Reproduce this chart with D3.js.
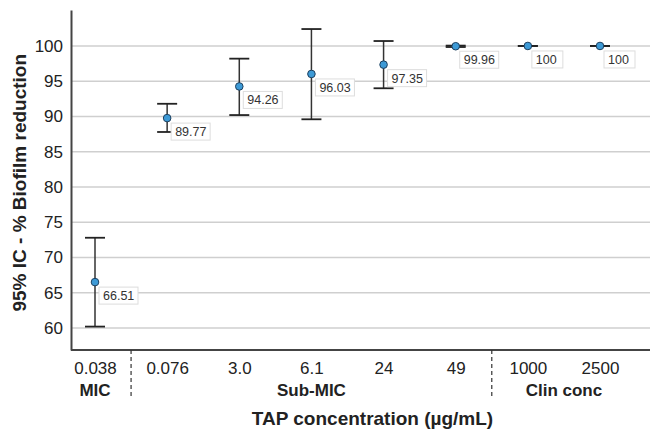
<!doctype html>
<html lang="en">
<head>
<meta charset="utf-8">
<script src="https://d3js.org/d3.v7.min.js"></script>
<style>
  body { margin: 0; background: #fff; }
  text { font-family: "Liberation Sans", Arial, sans-serif; }
</style>
</head>
<body>
<div id="chart"></div>
<script>
// data
var concentrations = ["0.038", "0.076", "3.0", "6.1", "24", "49", "1000", "2500"];
var means  = [66.51, 89.77, 94.26, 96.03, 97.35, 99.96, 100, 100];
var lowers = [60.2, 87.8, 90.2, 89.6, 94.0, 99.85, 100, 100];
var uppers = [72.8, 91.8, 98.2, 102.4, 100.7, 100.05, 100, 100];
var groupNames = ["MIC", "Sub-MIC", "Clin conc"];
var groupFirst = ["0.038", "0.076", "1000"];
var groupLast  = ["0.038", "49", "2500"];
var yTicks = [60, 65, 70, 75, 80, 85, 90, 95, 100];

var W = 650, H = 430;
var margin = {top: 10, right: 0, bottom: 80, left: 71};

var svg = d3.select("#chart").append("svg")
  .attr("width", W).attr("height", H);

var x = d3.scalePoint().domain(concentrations)
  .range([margin.left + 24, W - 50]);
var y = d3.scaleLinear().domain([56.88, 105.1])
  .range([H - margin.bottom, margin.top]);

// gridlines
svg.append("g").selectAll("line")
  .data(yTicks).enter().append("line")
  .attr("x1", margin.left).attr("x2", W)
  .attr("y1", function(d) { return y(d); })
  .attr("y2", function(d) { return y(d); })
  .attr("stroke", "#cfcfcf").attr("stroke-width", 1.5);

// y axis
var yAxis = svg.append("g")
  .attr("transform", "translate(" + margin.left + ",0)")
  .call(d3.axisLeft(y).tickValues(yTicks).tickSize(0).tickPadding(8));
yAxis.select(".domain").attr("stroke", "#444").attr("stroke-width", 2);
yAxis.selectAll("text").style("font-size", "17px").attr("fill", "#222");

// x axis
var xAxis = svg.append("g")
  .attr("transform", "translate(0," + (H - margin.bottom) + ")")
  .call(d3.axisBottom(x).tickSize(0).tickPadding(12));
xAxis.select(".domain").attr("d", "M" + margin.left + ",0H" + W)
  .attr("stroke", "#444").attr("stroke-width", 2);
xAxis.selectAll("text").style("font-size", "17px").attr("fill", "#222");

// separators between groups
var seps = [];
for (var g = 1; g < groupFirst.length; g++) {
  seps.push((x(groupLast[g - 1]) + x(groupFirst[g])) / 2);
}
svg.append("g").selectAll("line").data(seps).enter().append("line")
  .attr("x1", function(d) { return d; }).attr("x2", function(d) { return d; })
  .attr("y1", H - margin.bottom).attr("y2", H - margin.bottom + 49)
  .attr("stroke", "#333").attr("stroke-width", 1.2)
  .attr("stroke-dasharray", "4,3");

// group labels
svg.append("g").selectAll("text").data(groupNames).enter().append("text")
  .attr("x", function(d, i) { return (x(groupFirst[i]) + x(groupLast[i])) / 2; })
  .attr("y", H - margin.bottom + 46)
  .attr("text-anchor", "middle")
  .style("font-size", "17px").style("font-weight", "bold").attr("fill", "#222")
  .text(function(d) { return d; });

// axis titles
svg.append("text")
  .attr("x", (margin.left + W) / 2 + 12).attr("y", H - 5)
  .attr("text-anchor", "middle")
  .style("font-size", "19px").style("font-weight", "bold").attr("fill", "#222")
  .text("TAP concentration (µg/mL)");

svg.append("text")
  .attr("transform", "translate(26," + (y(80.6)) + ") rotate(-90)")
  .attr("text-anchor", "middle")
  .style("font-size", "19px").style("font-weight", "bold").attr("fill", "#222")
  .text("95% IC - % Biofilm reduction");

// error bars
var pts = concentrations.map(function(c, i) {
  return {c: c, m: means[i], lo: lowers[i], hi: uppers[i]};
});
var eb = svg.append("g").selectAll("g").data(pts).enter().append("g");
eb.append("line")
  .attr("x1", function(d) { return x(d.c); }).attr("x2", function(d) { return x(d.c); })
  .attr("y1", function(d) { return y(d.lo); }).attr("y2", function(d) { return y(d.hi); })
  .attr("stroke", "#333").attr("stroke-width", 1.5);
eb.append("line")
  .attr("x1", function(d) { return x(d.c) - 10; }).attr("x2", function(d) { return x(d.c) + 10; })
  .attr("y1", function(d) { return y(d.lo); }).attr("y2", function(d) { return y(d.lo); })
  .attr("stroke", "#222").attr("stroke-width", 1.8);
eb.append("line")
  .attr("x1", function(d) { return x(d.c) - 10; }).attr("x2", function(d) { return x(d.c) + 10; })
  .attr("y1", function(d) { return y(d.hi); }).attr("y2", function(d) { return y(d.hi); })
  .attr("stroke", "#222").attr("stroke-width", 1.8);

// value labels
eb.append("rect")
  .attr("x", function(d) { return x(d.c) + 4; })
  .attr("y", function(d) { return y(d.m) + 5; })
  .attr("width", function(d) { return String(d.m).length > 3 ? 39 : 31; })
  .attr("height", 17)
  .attr("fill", "#fff").attr("stroke", "#ddd").attr("stroke-width", 1);
eb.append("text")
  .attr("x", function(d) { return x(d.c) + 8; })
  .attr("y", function(d) { return y(d.m) + 18; })
  .style("font-size", "12.5px").attr("fill", "#333")
  .text(function(d) { return d.m; });

// points
eb.append("circle")
  .attr("cx", function(d) { return x(d.c); })
  .attr("cy", function(d) { return y(d.m); })
  .attr("r", 3.8)
  .attr("fill", "#3d9ad6").attr("stroke", "#1d3f5e").attr("stroke-width", 1);
</script>
</body>
</html>
